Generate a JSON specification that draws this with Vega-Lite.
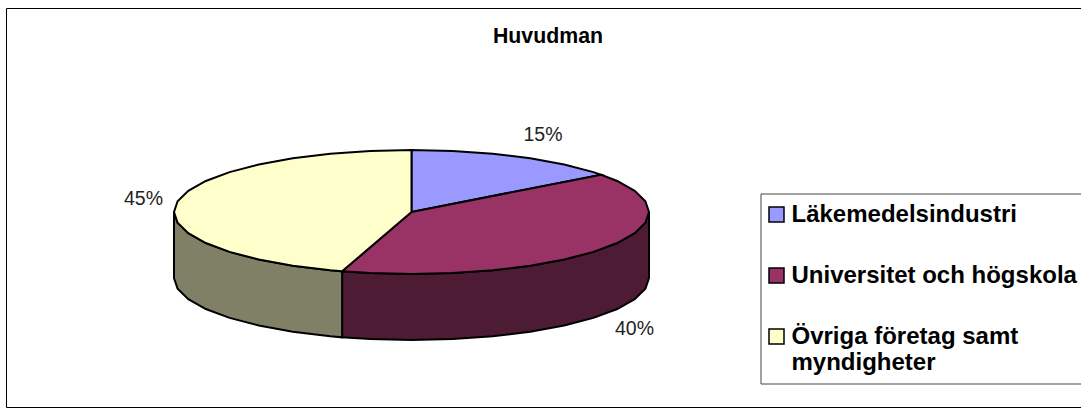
{"$schema":"https://vega.github.io/schema/vega-lite/v6.json","width":1081,"height":420,"padding":0,"autosize":{"type":"none"},"background":"white","view":{"stroke":null},
"datasets":{
"top":[
{"h":"Läkemedelsindustri","i":0,"x":411.5,"y":212},{"h":"Läkemedelsindustri","i":1,"x":411.5,"y":150},{"h":"Läkemedelsindustri","i":2,"x":452.7,"y":150.9},{"h":"Läkemedelsindustri","i":3,"x":492.7,"y":153.7},{"h":"Läkemedelsindustri","i":4,"x":530.2,"y":158.3},{"h":"Läkemedelsindustri","i":5,"x":564.2,"y":164.5},{"h":"Läkemedelsindustri","i":6,"x":593.4,"y":172.1},{"h":"Läkemedelsindustri","i":7,"x":601.2,"y":174.7},{"h":"Läkemedelsindustri","i":8,"x":411.5,"y":212},
{"h":"Universitet och högskola","i":0,"x":411.5,"y":212},{"h":"Universitet och högskola","i":1,"x":601.2,"y":174.7},{"h":"Universitet och högskola","i":2,"x":617.2,"y":181},{"h":"Universitet och högskola","i":3,"x":634.7,"y":190.8},{"h":"Universitet och högskola","i":4,"x":645.4,"y":201.2},{"h":"Universitet och högskola","i":5,"x":649,"y":212},{"h":"Universitet och högskola","i":6,"x":645.4,"y":222.8},{"h":"Universitet och högskola","i":7,"x":634.7,"y":233.2},{"h":"Universitet och högskola","i":8,"x":617.2,"y":243},{"h":"Universitet och högskola","i":9,"x":593.4,"y":251.9},{"h":"Universitet och högskola","i":10,"x":564.2,"y":259.5},{"h":"Universitet och högskola","i":11,"x":530.2,"y":265.7},{"h":"Universitet och högskola","i":12,"x":492.7,"y":270.3},{"h":"Universitet och högskola","i":13,"x":452.7,"y":273.1},{"h":"Universitet och högskola","i":14,"x":411.5,"y":274},{"h":"Universitet och högskola","i":15,"x":370.3,"y":273.1},{"h":"Universitet och högskola","i":16,"x":342.1,"y":271.3},{"h":"Universitet och högskola","i":17,"x":411.5,"y":212},
{"h":"Övriga företag samt myndigheter","i":0,"x":411.5,"y":212},{"h":"Övriga företag samt myndigheter","i":1,"x":342.1,"y":271.3},{"h":"Övriga företag samt myndigheter","i":2,"x":330.3,"y":270.3},{"h":"Övriga företag samt myndigheter","i":3,"x":292.8,"y":265.7},{"h":"Övriga företag samt myndigheter","i":4,"x":258.8,"y":259.5},{"h":"Övriga företag samt myndigheter","i":5,"x":229.6,"y":251.9},{"h":"Övriga företag samt myndigheter","i":6,"x":205.8,"y":243},{"h":"Övriga företag samt myndigheter","i":7,"x":188.3,"y":233.2},{"h":"Övriga företag samt myndigheter","i":8,"x":177.6,"y":222.8},{"h":"Övriga företag samt myndigheter","i":9,"x":174,"y":212},{"h":"Övriga företag samt myndigheter","i":10,"x":177.6,"y":201.2},{"h":"Övriga företag samt myndigheter","i":11,"x":188.3,"y":190.8},{"h":"Övriga företag samt myndigheter","i":12,"x":205.8,"y":181},{"h":"Övriga företag samt myndigheter","i":13,"x":229.6,"y":172.1},{"h":"Övriga företag samt myndigheter","i":14,"x":258.8,"y":164.5},{"h":"Övriga företag samt myndigheter","i":15,"x":292.8,"y":158.3},{"h":"Övriga företag samt myndigheter","i":16,"x":330.3,"y":153.7},{"h":"Övriga företag samt myndigheter","i":17,"x":370.3,"y":150.9},{"h":"Övriga företag samt myndigheter","i":18,"x":411.5,"y":150},{"h":"Övriga företag samt myndigheter","i":19,"x":411.5,"y":212}
],
"sidePurple":[
{"i":0,"x":649,"y":212},{"i":1,"x":645.4,"y":222.8},{"i":2,"x":634.7,"y":233.2},{"i":3,"x":617.2,"y":243},{"i":4,"x":593.4,"y":251.9},{"i":5,"x":564.2,"y":259.5},{"i":6,"x":530.2,"y":265.7},{"i":7,"x":492.7,"y":270.3},{"i":8,"x":452.7,"y":273.1},{"i":9,"x":411.5,"y":274},{"i":10,"x":370.3,"y":273.1},{"i":11,"x":342.1,"y":271.3},{"i":12,"x":342.1,"y":337.3},{"i":13,"x":370.3,"y":339.1},{"i":14,"x":411.5,"y":340},{"i":15,"x":452.7,"y":339.1},{"i":16,"x":492.7,"y":336.3},{"i":17,"x":530.2,"y":331.7},{"i":18,"x":564.2,"y":325.5},{"i":19,"x":593.4,"y":317.9},{"i":20,"x":617.2,"y":309},{"i":21,"x":634.7,"y":299.2},{"i":22,"x":645.4,"y":288.8},{"i":23,"x":649,"y":278},{"i":24,"x":649,"y":212}
],
"sideOlive":[
{"i":0,"x":342.1,"y":271.3},{"i":1,"x":330.3,"y":270.3},{"i":2,"x":292.8,"y":265.7},{"i":3,"x":258.8,"y":259.5},{"i":4,"x":229.6,"y":251.9},{"i":5,"x":205.8,"y":243},{"i":6,"x":188.3,"y":233.2},{"i":7,"x":177.6,"y":222.8},{"i":8,"x":174,"y":212},{"i":9,"x":174,"y":278},{"i":10,"x":177.6,"y":288.8},{"i":11,"x":188.3,"y":299.2},{"i":12,"x":205.8,"y":309},{"i":13,"x":229.6,"y":317.9},{"i":14,"x":258.8,"y":325.5},{"i":15,"x":292.8,"y":331.7},{"i":16,"x":330.3,"y":336.3},{"i":17,"x":342.1,"y":337.3},{"i":18,"x":342.1,"y":271.3}
],
"frame":[{"i":0,"x":6.5,"y":8.5},{"i":1,"x":1090,"y":8.5},{"i":2,"x":1090,"y":407.5},{"i":3,"x":6.5,"y":407.5},{"i":4,"x":6.5,"y":8.5}],
"labels":[{"t":"15%","x":543,"y":134.5},{"t":"40%","x":634.5,"y":329},{"t":"45%","x":143.5,"y":198.5}],
"title":[{"t":"Huvudman","x":548,"y":36.5}]
},
"encoding":{"x":{"field":"x","type":"quantitative","scale":{"domain":[0,1081],"range":[0,1081],"nice":false,"zero":false},"axis":null},"y":{"field":"y","type":"quantitative","scale":{"domain":[0,420],"range":[0,420],"nice":false,"zero":false},"axis":null}},
"layer":[
{"data":{"name":"frame"},"mark":{"type":"line","stroke":"#000","strokeWidth":1,"clip":true},"encoding":{"order":{"field":"i"}}},
{"data":{"name":"sidePurple"},"mark":{"type":"line","fill":"#4d1b33","stroke":"#000","strokeWidth":2},"encoding":{"order":{"field":"i"}}},
{"data":{"name":"sideOlive"},"mark":{"type":"line","fill":"#808066","stroke":"#000","strokeWidth":2},"encoding":{"order":{"field":"i"}}},
{"data":{"name":"top"},"mark":{"type":"line","stroke":"#000","strokeWidth":2},"encoding":{"order":{"field":"i"},"detail":{"field":"h"},
"fill":{"field":"h","type":"nominal","scale":{"domain":["Läkemedelsindustri","Universitet och högskola","Övriga företag samt myndigheter"],"range":["#9999ff","#993366","#ffffcc"]},
"legend":{"orient":"none","legendX":760.5,"legendY":193.5,"title":null,"symbolType":"square","symbolSize":225,"symbolStrokeColor":"#000","symbolStrokeWidth":1.5,"symbolOffset":-5,"labelFont":"Liberation Sans","labelFontWeight":"bold","labelFontSize":24,"labelColor":"#000","labelLimit":400,"strokeColor":"#444","fillColor":"#fff","padding":9,"rowPadding":37,"labelOffset":3,"encoding":{"labels":{"lineHeight":29,"dy":-3}},"labelExpr":"datum.label === 'Övriga företag samt myndigheter' ? ['Övriga företag samt','myndigheter'] : datum.label"}}}},
{"data":{"name":"labels"},"mark":{"type":"text","font":"Liberation Sans","fontSize":19.5,"color":"#222"},"encoding":{"text":{"field":"t"}}},
{"data":{"name":"title"},"mark":{"type":"text","font":"Liberation Sans","fontSize":21.3,"fontWeight":"bold","color":"#000"},"encoding":{"text":{"field":"t"}}}
]}
